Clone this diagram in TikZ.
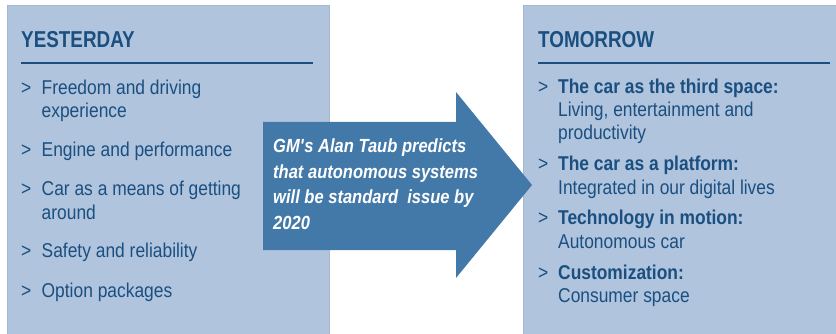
\documentclass[tikz,border=0pt]{standalone}
\usepackage{fontspec}
\setmainfont[FakeStretch=0.87]{Liberation Sans}
\newfontfamily\titlefont[FakeStretch=0.82]{Liberation Sans}
\definecolor{panel}{HTML}{B0C4DE}
\definecolor{paneledge}{HTML}{A7B8CE}
\definecolor{tblue}{HTML}{1A4F80}
\definecolor{arrowblue}{HTML}{4379A8}
\begin{document}
\begin{tikzpicture}[x=1pt,y=-1pt,
  panelbox/.style={fill=panel,draw=paneledge,line width=0.6pt},
  titletext/.style={anchor=base west,inner sep=0pt,text=tblue,font=\titlefont\bfseries\fontsize{23}{26}\selectfont},
  bodytext/.style={anchor=base west,inner sep=0pt,text=tblue,font=\fontsize{20}{23}\selectfont},
  boldtext/.style={bodytext,font=\bfseries\fontsize{20}{23}\selectfont},
  bulletmark/.style={bodytext},
  arrowtext/.style={anchor=base west,inner sep=0pt,text=white,font=\bfseries\itshape\fontsize{19}{25}\selectfont},
  rulestyle/.style={draw=tblue,line width=1.3pt}]
\useasboundingbox (0,0) rectangle (836,334);

% panels
\path[panelbox] (7,5) rectangle (329,336);
\path[panelbox] (523,5) rectangle (838,336);

% left panel
\node[titletext] (ytitle) at (21,48) {YESTERDAY};
\coordinate (yr1) at (21,63);
\coordinate (yr2) at (313,63);
\draw[rulestyle] (yr1) -- (yr2);

\node[bulletmark] (yb1) at (21,95) {>};
\node[bodytext] (y1a) at (41.5,95) {Freedom and driving};
\node[bodytext] (y1b) at (41.5,118) {experience};
\node[bulletmark] (yb2) at (21,157) {>};
\node[bodytext] (y2a) at (41.5,157) {Engine and performance};
\node[bulletmark] (yb3) at (21,196) {>};
\node[bodytext] (y3a) at (41.5,196) {Car as a means of getting};
\node[bodytext] (y3b) at (41.5,219) {around};
\node[bulletmark] (yb4) at (21,258) {>};
\node[bodytext] (y4a) at (41.5,258) {Safety and reliability};
\node[bulletmark] (yb5) at (21,297) {>};
\node[bodytext] (y5a) at (41.5,297) {Option packages};

% right panel
\node[titletext] (ttitle) at (538,48) {TOMORROW};
\coordinate (tr1) at (538,63);
\coordinate (tr2) at (830,63);
\draw[rulestyle] (tr1) -- (tr2);

\node[bulletmark] (tb1) at (538,94) {>};
\node[boldtext] (t1a) at (558,94) {The car as the third space:};
\node[bodytext] (t1b) at (558,117) {Living, entertainment and};
\node[bodytext] (t1c) at (558,140) {productivity};
\node[bulletmark] (tb2) at (538,171) {>};
\node[boldtext] (t2a) at (558,171) {The car as a platform:};
\node[bodytext] (t2b) at (558,194) {Integrated in our digital lives};
\node[bulletmark] (tb3) at (538,225) {>};
\node[boldtext] (t3a) at (558,225) {Technology in motion:};
\node[bodytext] (t3b) at (558,248) {Autonomous car};
\node[bulletmark] (tb4) at (538,279) {>};
\node[boldtext] (t4a) at (558,279) {Customization:};
\node[bodytext] (t4b) at (558,302) {Consumer space};

% arrow
\fill[arrowblue] (263,122) -- (456,122) -- (456,92) -- (532,185) -- (456,278) -- (456,250) -- (263,250) -- cycle;
\node[arrowtext] (a1) at (273,153) {GM\textquotesingle s Alan Taub predicts};
\node[arrowtext] (a2) at (273,178.5) {that autonomous systems};
\node[arrowtext] (a3) at (273,204) {will be standard~ issue by};
\node[arrowtext] (a4) at (273,229.5) {2020};
\end{tikzpicture}
\end{document}
